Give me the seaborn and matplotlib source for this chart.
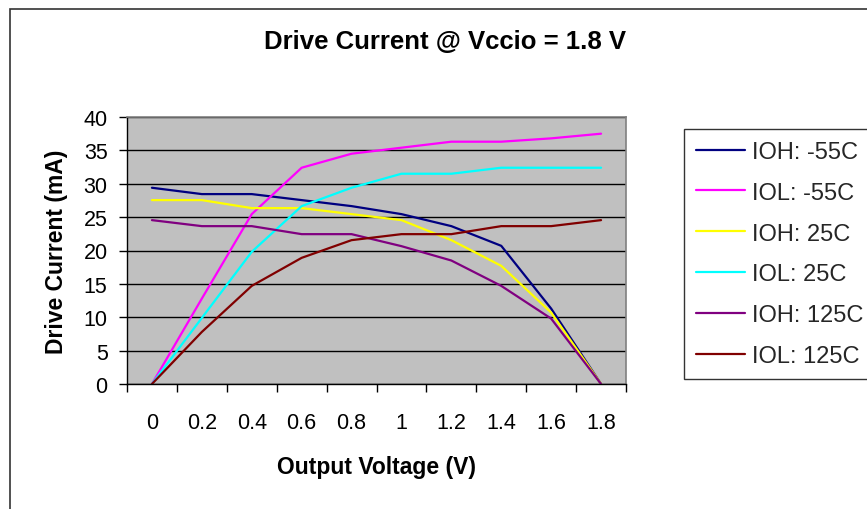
import pandas as pd
import matplotlib.pyplot as plt
import seaborn as sns
from matplotlib.patches import Rectangle

voltages = ['0', '0.2', '0.4', '0.6', '0.8', '1', '1.2', '1.4', '1.6', '1.8']
ioh_m55 = [29.4, 28.45, 28.45, 27.55, 26.65, 25.45, 23.65, 20.7, 11.3, 0]
iol_m55 = [0, 12.8, 25.45, 32.4, 34.5, 35.4, 36.3, 36.3, 36.8, 37.5]
ioh_25 = [27.55, 27.55, 26.35, 26.35, 25.45, 24.55, 21.55, 17.7, 10.7, 0]
iol_25 = [0, 9.9, 19.8, 26.65, 29.4, 31.5, 31.5, 32.4, 32.4, 32.4]
ioh_125 = [24.55, 23.65, 23.65, 22.45, 22.45, 20.65, 18.5, 14.7, 9.8, 0]
iol_125 = [0, 7.8, 14.7, 18.9, 21.55, 22.45, 22.45, 23.65, 23.65, 24.55]

series = {
    'IOH: -55C': ioh_m55,
    'IOL: -55C': iol_m55,
    'IOH: 25C': ioh_25,
    'IOL: 25C': iol_25,
    'IOH: 125C': ioh_125,
    'IOL: 125C': iol_125,
}
colors = ['#000080', '#FF00FF', '#FFFF00', '#00FFFF', '#800080', '#800000']

rows = []
for name, vals in series.items():
    for v, c in zip(voltages, vals):
        rows.append({'Voltage': v, 'Current': c, 'Series': name})
df = pd.DataFrame(rows)

sns.set_theme(style='white')
plt.rcParams['font.family'] = ['Liberation Sans', 'DejaVu Sans']

fig = plt.figure(figsize=(8.67, 5.1), dpi=100)
ax = fig.add_axes([127 / 867, 1 - 385 / 510, 499 / 867, 267 / 510])

# outer chart frame, runs off the right and bottom edges
fig.patches.append(Rectangle((10 / 867, -0.1), 1.1, 1 - 10 / 510 + 0.1,
                             transform=fig.transFigure, fill=False,
                             edgecolor='#333333', linewidth=1.2))

sns.lineplot(data=df, x='Voltage', y='Current', hue='Series', palette=colors,
             sort=False, linewidth=1.6, ax=ax)

ax.set_facecolor('#C0C0C0')
ax.set_xlim(-0.5, len(voltages) - 0.5)
ax.set_ylim(0, 40)
ax.set_yticks(range(0, 41, 5))
ax.yaxis.grid(True, color='black', linewidth=1)
ax.set_axisbelow(True)

ax.set_xticks(range(len(voltages)))
ax.set_xticklabels(voltages)
ax.set_xticks([i - 0.5 for i in range(len(voltages) + 1)], minor=True)
ax.tick_params(axis='x', which='major', length=0, pad=20, labelsize=15.5, colors='black')
ax.tick_params(axis='x', which='minor', length=6, width=1, color='black', direction='out', bottom=True)
ax.tick_params(axis='y', length=6, width=1, color='black', direction='out', left=True,
               pad=8, labelsize=15.5, labelcolor='black')

for side in ['top', 'right']:
    ax.spines[side].set_color('#808080')
    ax.spines[side].set_linewidth(1.2)
for side in ['left', 'bottom']:
    ax.spines[side].set_color('black')
    ax.spines[side].set_linewidth(1)

ax.set_xlabel('Output Voltage (V)', fontsize=16.5, fontweight='bold', labelpad=16, color='black')
ax.set_ylabel('Drive Current (mA)', fontsize=16.5, fontweight='bold', labelpad=11, color='black')

fig.text(445 / 867, 1 - 42 / 510, 'Drive Current @ Vccio = 1.8 V', ha='center', va='center',
         fontsize=18.5, fontweight='bold', color='black')

leg = ax.legend(loc='upper left', bbox_to_anchor=(684 / 867, 1 - 130 / 510),
                bbox_transform=fig.transFigure, fontsize=17, frameon=True, fancybox=False,
                handlelength=2.1, handletextpad=0.3, labelspacing=0.8, borderaxespad=0,
                borderpad=0.5)
leg.get_frame().set_edgecolor('black')
leg.get_frame().set_linewidth(1)

fig.savefig('out.png', dpi=100)
